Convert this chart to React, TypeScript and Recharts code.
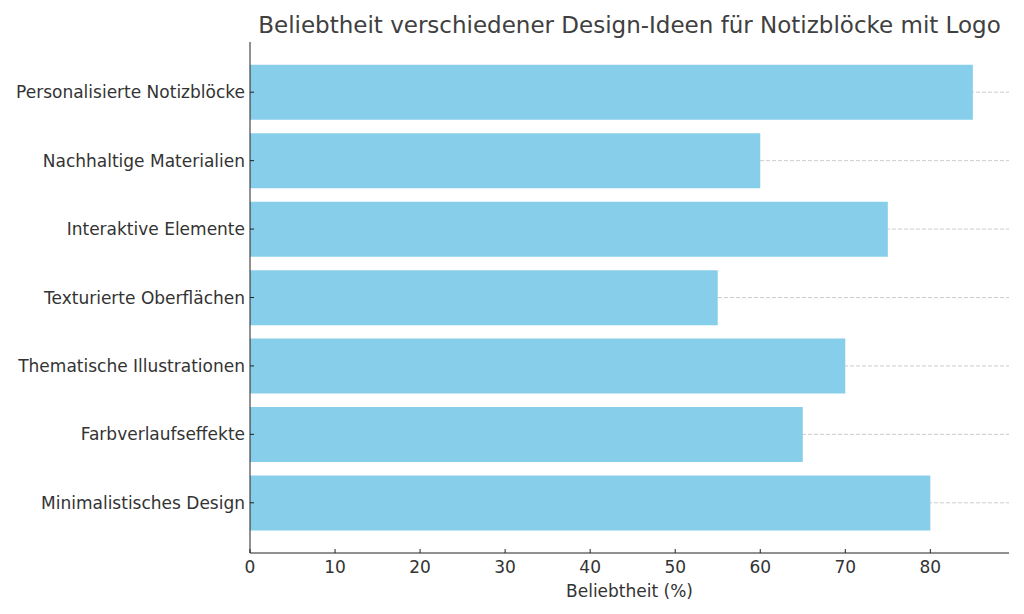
import { BarChart, Bar, XAxis, YAxis, CartesianGrid, Label } from 'recharts'

const categories = [
  'Personalisierte Notizblöcke',
  'Nachhaltige Materialien',
  'Interaktive Elemente',
  'Texturierte Oberflächen',
  'Thematische Illustrationen',
  'Farbverlaufseffekte',
  'Minimalistisches Design',
]
const popularity = [85, 60, 75, 55, 70, 65, 80]
const xTicks = [0, 10, 20, 30, 40, 50, 60, 70, 80]

const data = categories.map((name, i) => ({ name, value: popularity[i] }))

const font = 'DejaVu Sans, sans-serif'
const textColor = '#333333'

// dashed grid lines only at the middle of each category band
const gridAtCategories = ({ yAxis }: any) => {
  const s = yAxis?.scale
  if (!s) return []
  const bw = typeof s.bandwidth === 'function' ? s.bandwidth() : 0
  const toPx = (c: string): number | undefined => {
    if (typeof s === 'function') return s(c) + bw / 2
    if (typeof s.map === 'function') return s.map(c, { position: 'middle' })
    return undefined
  }
  return categories.map(toPx).filter((v): v is number => typeof v === 'number' && !isNaN(v))
}

export default function App() {
  return (
    <div style={{ position: 'absolute', left: 0, top: 0, width: 1024, height: 614, background: '#fff' }}>
      <div
        style={{
          position: 'absolute',
          left: 250,
          width: 759,
          top: 12,
          textAlign: 'center',
          fontFamily: font,
          fontSize: 23,
          color: '#404040',
          whiteSpace: 'nowrap',
        }}
      >
        Beliebtheit verschiedener Design-Ideen für Notizblöcke mit Logo
      </div>
      <BarChart
        width={1024}
        height={614}
        data={data}
        layout="vertical"
        margin={{ top: 42, right: 15, bottom: 0, left: 0 }}
        barCategoryGap="10%"
      >
        <CartesianGrid
          horizontal
          vertical={false}
          stroke="#cccccc"
          strokeDasharray="4 2"
          horizontalCoordinatesGenerator={gridAtCategories}
        />
        <XAxis
          type="number"
          domain={[0, 89.25]}
          ticks={xTicks}
          allowDataOverflow
          height={61}
          stroke="#222"
          tickSize={-4}
          tickMargin={12}
          tick={{ fill: textColor, fontSize: 17, fontFamily: font }}
        >
          <Label
            value="Beliebtheit (%)"
            position="insideBottom"
            offset={17}
            style={{ fill: textColor, fontSize: 17, fontFamily: font }}
          />
        </XAxis>
        <YAxis
          type="category"
          dataKey="name"
          width={250}
          stroke="#222"
          tickSize={-4}
          tickMargin={9}
          padding={{ top: 16, bottom: 16 }}
          interval={0}
          tick={{ fill: textColor, fontSize: 17, fontFamily: font }}
        />
        <Bar dataKey="value" fill="#87ceeb" isAnimationActive={false} />
      </BarChart>
    </div>
  )
}
